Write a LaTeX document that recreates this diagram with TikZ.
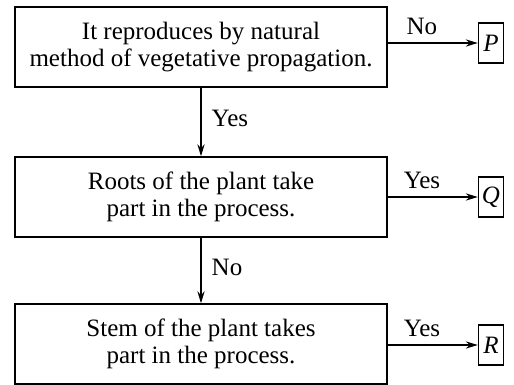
\documentclass[tikz,border=0pt]{standalone}
\usepackage{fontspec}
\setmainfont{Liberation Serif}
\usepackage{tikz}
\usetikzlibrary{arrows.meta}

\begin{document}
\begin{tikzpicture}[x=0.5pt,y=-0.5pt,line width=0.7pt,>={Stealth[length=6pt,width=3.6pt]}]
\newcommand{\qsize}{\fontsize{12.5}{13.8}\selectfont}
\useasboundingbox (0,0) rectangle (514,385);
\begin{scope}[shape=rectangle,inner sep=0pt]
\tikzstyle{every node}=[font=\qsize]
\tikzstyle{question}=[draw,minimum width=186pt,minimum height=40pt,align=center]
\tikzstyle{result}=[draw,minimum width=12.5pt,minimum height=20pt]
\node[question] (Q_1) at (201,47) {It reproduces by natural\\method of vegetative propagation.};
\node[question] (Q_2) at (201,197) {Roots of the plant take\\part in the process.};
\node[question] (Q_3) at (201,344) {Stem of the plant takes\\part in the process.};
\node[result] (P) at (491,43) {\textit{P}};
\node[result] (Q) at (491,197) {\textit{Q}};
\node[result] (R) at (491,345) {\textit{R}};
\draw [->] (Q_1.east |- P) -- node[above=4pt,pos=0.38] {No} (P);
\draw [->] (Q_1) -- node[right=5pt,pos=0.45] {Yes} (Q_2);
\draw [->] (Q_2.east |- Q) -- node[above=4pt,pos=0.38] {Yes} (Q);
\draw [->] (Q_2) -- node[right=5pt,pos=0.45] {No} (Q_3);
\draw [->] (Q_3.east |- R) -- node[above=4pt,pos=0.38] {Yes} (R);
\end{scope}
\end{tikzpicture}
\end{document}
